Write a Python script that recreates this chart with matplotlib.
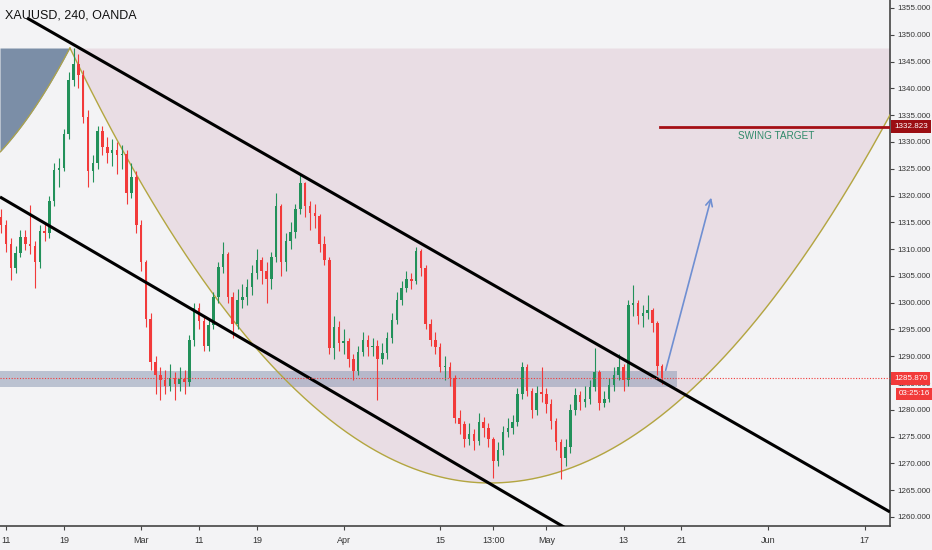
import numpy as np
import matplotlib
matplotlib.use("Agg")
import matplotlib.pyplot as plt

plt.rcParams['font.family'] = ['Liberation Sans', 'DejaVu Sans']

# 4h chart resampled to two candles per trading day, x = trading day index (Feb 11 = 0)
first_open = 1316.0
closes = [1314.5, 1311.0, 1306.5, 1309.3, 1312.3, 1311.0, 1310.5, 1307.6, 1313.4, 1313.0,
          1319.0, 1324.8, 1325.2, 1331.5, 1341.5, 1344.5, 1342.5, 1334.7, 1324.5, 1326.0,
          1332.0, 1329.0, 1328.0, 1328.5, 1327.5, 1327.8, 1320.5, 1323.5, 1314.5, 1307.5,
          1297.0, 1289.0, 1286.5, 1285.5, 1284.5, 1286.0, 1284.8, 1285.8, 1285.2, 1293.0,
          1299.0, 1296.5, 1292.0, 1295.8, 1301.0, 1306.7, 1309.0, 1301.0, 1296.0, 1300.5,
          1301.0, 1302.9, 1305.5, 1308.0, 1306.0, 1304.5, 1308.5, 1318.0, 1307.5, 1311.5,
          1313.2, 1317.5, 1322.3, 1318.0, 1316.7, 1316.2, 1311.0, 1308.0, 1291.5, 1295.5,
          1292.5, 1292.8, 1289.5, 1287.2, 1290.8, 1293.0, 1291.7, 1292.0, 1289.5, 1290.6,
          1293.5, 1296.8, 1300.5, 1302.8, 1304.5, 1304.0, 1309.6, 1306.5, 1296.0, 1293.0,
          1291.7, 1288.0, 1288.0, 1286.0, 1278.5, 1277.3, 1274.6, 1275.5, 1274.2, 1277.8,
          1276.6, 1274.5, 1270.5, 1272.5, 1275.8, 1276.7, 1277.8, 1283.0, 1288.0, 1283.5,
          1280.0, 1283.2, 1283.0, 1281.0, 1278.0, 1274.0, 1271.0, 1273.0, 1280.0, 1282.8,
          1281.5, 1282.0, 1284.2, 1287.0, 1281.3, 1282.0, 1284.6, 1286.5, 1288.0, 1285.5,
          1299.5, 1300.0, 1297.6, 1298.1, 1298.6, 1296.2, 1288.2, 1285.87]
highs = [1317.5, 1315.5, 1312.0, 1310.5, 1313.5, 1313.5, 1318.2, 1311.5, 1314.5, 1315.0,
         1320.0, 1326.0, 1327.0, 1332.5, 1343.0, 1347.5, 1346.5, 1343.5, 1336.0, 1327.5,
         1333.0, 1333.0, 1331.0, 1330.5, 1330.0, 1329.5, 1328.5, 1326.0, 1324.5, 1315.5,
         1308.0, 1298.0, 1290.0, 1288.0, 1287.5, 1288.5, 1287.0, 1288.0, 1287.5, 1294.0,
         1300.0, 1300.0, 1297.5, 1297.0, 1302.0, 1307.5, 1311.3, 1309.5, 1302.0, 1302.5,
         1303.5, 1304.5, 1307.0, 1310.0, 1308.5, 1307.5, 1309.5, 1320.5, 1318.5, 1313.0,
         1315.0, 1318.5, 1323.8, 1322.5, 1319.0, 1318.5, 1316.5, 1312.5, 1308.5, 1297.5,
         1296.5, 1295.0, 1293.5, 1290.5, 1292.0, 1294.5, 1294.0, 1293.5, 1293.0, 1292.5,
         1294.5, 1298.0, 1302.0, 1304.0, 1306.0, 1305.5, 1310.4, 1310.0, 1307.0, 1297.0,
         1294.5, 1292.5, 1290.0, 1289.0, 1286.5, 1280.0, 1278.0, 1277.5, 1276.5, 1279.5,
         1278.7, 1277.5, 1275.0, 1274.0, 1277.0, 1278.5, 1279.0, 1284.0, 1288.9, 1288.5,
         1284.0, 1284.5, 1288.0, 1284.0, 1282.0, 1278.5, 1274.5, 1274.5, 1281.0, 1284.0,
         1283.5, 1284.5, 1285.5, 1291.5, 1287.5, 1283.5, 1286.0, 1288.0, 1290.5, 1288.5,
         1300.5, 1303.3, 1300.5, 1299.5, 1301.5, 1299.0, 1296.5, 1288.5]
lows = [1313.0, 1309.5, 1304.2, 1305.5, 1308.5, 1309.8, 1309.0, 1302.7, 1306.5, 1311.5,
        1312.0, 1318.0, 1321.5, 1324.5, 1330.5, 1340.5, 1340.0, 1333.5, 1321.6, 1322.5,
        1325.0, 1327.5, 1326.0, 1325.5, 1324.0, 1325.0, 1318.5, 1319.5, 1313.0, 1306.0,
        1295.5, 1287.5, 1283.0, 1281.8, 1283.0, 1283.5, 1281.8, 1283.5, 1283.0, 1284.5,
        1292.0, 1295.0, 1291.0, 1291.0, 1295.0, 1300.0, 1305.5, 1300.0, 1293.4, 1295.0,
        1299.0, 1299.5, 1301.5, 1304.5, 1303.5, 1300.0, 1302.5, 1307.5, 1305.0, 1306.0,
        1310.0, 1312.0, 1316.5, 1316.0, 1313.5, 1314.0, 1309.5, 1307.0, 1290.5, 1289.5,
        1291.0, 1290.5, 1288.0, 1285.5, 1286.5, 1290.0, 1290.0, 1290.0, 1281.8, 1288.5,
        1289.5, 1292.5, 1296.0, 1299.5, 1302.0, 1302.5, 1303.5, 1305.0, 1295.0, 1292.0,
        1290.5, 1287.0, 1285.5, 1284.5, 1277.5, 1275.5, 1273.0, 1273.5, 1272.5, 1273.5,
        1275.0, 1273.0, 1267.3, 1269.5, 1271.5, 1275.0, 1275.5, 1277.0, 1282.0, 1282.5,
        1278.5, 1279.0, 1281.5, 1279.5, 1276.5, 1272.5, 1267.0, 1269.5, 1272.0, 1279.0,
        1280.0, 1280.5, 1281.0, 1283.5, 1280.0, 1280.5, 1281.5, 1283.5, 1285.5, 1283.5,
        1284.5, 1297.5, 1296.0, 1295.5, 1297.0, 1294.5, 1286.5, 1284.8]
first_day = -0.5
candles_per_day = 2

# axis labels
date_labels = ['11', '19', 'Mar', '11', '19', 'Apr', '15', '13:00', 'May', '13', '21', 'Jun', '17']
date_days = [0, 6, 14, 20, 26, 35, 45, 50.5, 56, 64, 70, 79, 89]
price_ticks = list(range(1260, 1356, 5))
last_price = 1285.870
target_price = 1332.823
countdown = '03:25:16'

# drawing anchors (day, price)
upper_channel = [(2.18, 1353.13), (91.61, 1260.94)]
lower_channel = [(-0.62, 1319.73), (61.55, 1254.20)]
arc_left, arc_bottom, arc_right = (6.63, 1347.53), (50.16, 1266.35), (91.61, 1335.03)
blue_edge_days = [6.63, 4.56, 2.49, -0.62]
blue_edge_prices = [1347.53, 1341.0, 1335.03, 1328.12]
zone = (-0.62, 69.53, 1284.3, 1287.25)
target_line_start = 67.77
target_text_pos = (79.8, 1331.1)
arrow_from, arrow_to = (68.29, 1286.88), (73.16, 1320.1)

bg = '#f3f3f5'
up_col = '#22915a'
dn_col = '#f23a3a'
scale_size = 5.8

fig = plt.figure(figsize=(9.32, 5.5), dpi=100, facecolor=bg)
ax = fig.add_axes([0, 24 / 550, 890 / 932, 526 / 550])
ax.set_facecolor(bg)
xmin, xmax = -0.62, 91.61
ymin, ymax = 1258.32, 1356.49
ax.set_xlim(xmin, xmax)
ax.set_ylim(ymin, ymax)

# arc (two parabola halves meeting at the bottom)
xl = np.linspace(arc_left[0], arc_bottom[0], 200)
al = (arc_left[1] - arc_bottom[1]) / (arc_left[0] - arc_bottom[0]) ** 2
xr = np.linspace(arc_bottom[0], arc_right[0], 200)
ar = (arc_right[1] - arc_bottom[1]) / (arc_right[0] - arc_bottom[0]) ** 2
arc_x = np.concatenate([xl, xr])
arc_y = np.concatenate([arc_bottom[1] + al * (xl - arc_bottom[0]) ** 2,
                        arc_bottom[1] + ar * (xr - arc_bottom[0]) ** 2])
top = arc_left[1]
ax.fill_between(arc_x, arc_y, top, color='#e9dde4', zorder=1, lw=0)
ax.plot(arc_x, arc_y, color='#b3a640', lw=1, zorder=4)

# blue-grey wedge on the left
coef = np.polyfit(blue_edge_days, blue_edge_prices, 2)
bx = np.linspace(xmin, blue_edge_days[0], 100)
by = np.polyval(coef, bx)
ax.fill_between(bx, by, top, color='#7b8ea7', zorder=1, lw=0)
ax.plot(bx, by, color='#b3a640', lw=0.8, zorder=4)

# support zone
ax.fill_between([zone[0], zone[1]], zone[2], zone[3], color='#8e9bb5', alpha=0.55, zorder=2, lw=0)

# candles
n = len(closes)
days = first_day + np.arange(n) / candles_per_day
opens = np.array([first_open] + closes[:-1])
cl = np.array(closes)
up = cl >= opens
cols = np.where(up, up_col, dn_col)
ax.vlines(days, lows, highs, colors=cols, lw=0.8, zorder=5)
body_lo = np.minimum(opens, cl)
body_h = np.maximum(np.abs(cl - opens), 0.25)
ax.bar(days, body_h, bottom=body_lo, width=0.26, color=cols, zorder=6, lw=0)

# channel lines
for (x0, y0), (x1, y1) in [upper_channel, lower_channel]:
    ax.plot([x0, x1], [y0, y1], color='black', lw=2.2, zorder=7, solid_capstyle='butt')

# last price dotted line
ax.axhline(last_price, color='#f23a3a', lw=0.8, ls=(0, (1, 1.5)), zorder=8)

# swing target
ax.plot([target_line_start, xmax], [target_price, target_price], color='#a50f15', lw=2, zorder=8)
ax.text(target_text_pos[0], target_text_pos[1], 'SWING TARGET', color='#2f8a6a',
        fontsize=7.2, ha='center', va='center', zorder=9)

# arrow
ax.annotate('', xy=arrow_to, xytext=arrow_from,
            arrowprops=dict(arrowstyle='->', color='#6f8fd2', lw=1.2,
                            mutation_scale=12), zorder=9)

# axes styling
for s in ['top', 'left']:
    ax.spines[s].set_visible(False)
for s in ['bottom', 'right']:
    ax.spines[s].set_color('#444444')
    ax.spines[s].set_linewidth(1.2)
ax.yaxis.tick_right()
ax.set_yticks(price_ticks)
ax.set_yticklabels([f'{p:.3f}' for p in price_ticks])
ax.set_xticks(date_days)
ax.set_xticklabels(date_labels)
ax.tick_params(axis='y', length=3, width=0.8, color='#444444', labelcolor='#333333',
               labelsize=scale_size, pad=2)
ax.tick_params(axis='x', length=3, width=0.8, color='#444444', labelcolor='#333333',
               labelsize=6.5, pad=4)

# price badges on the scale
ax.annotate(f'{target_price:.3f}', xy=(1, target_price), xycoords=('axes fraction', 'data'),
            xytext=(3, 0), textcoords='offset points', ha='left', va='center',
            fontsize=scale_size, color='white', zorder=10, annotation_clip=False,
            bbox=dict(boxstyle='square,pad=0.35', fc='#9b0e13', ec='none'))
ax.annotate(f'{last_price:.3f}', xy=(1, last_price), xycoords=('axes fraction', 'data'),
            xytext=(3, 0), textcoords='offset points', ha='left', va='center',
            fontsize=scale_size, color='white', zorder=10, annotation_clip=False,
            bbox=dict(boxstyle='square,pad=0.35', fc='#f23a3a', ec='none'))
ax.annotate(countdown, xy=(1, last_price), xycoords=('axes fraction', 'data'),
            xytext=(6, -11), textcoords='offset points', ha='left', va='center',
            fontsize=scale_size, color='white', zorder=10, annotation_clip=False,
            bbox=dict(boxstyle='square,pad=0.3', fc='#f23a3a', ec='none'))

fig.text(5 / 932, 1 - 16 / 550, 'XAUUSD, 240, OANDA', fontsize=9,
         color='#111111', ha='left', va='center')

fig.savefig('out.png', dpi=100, facecolor=bg)
